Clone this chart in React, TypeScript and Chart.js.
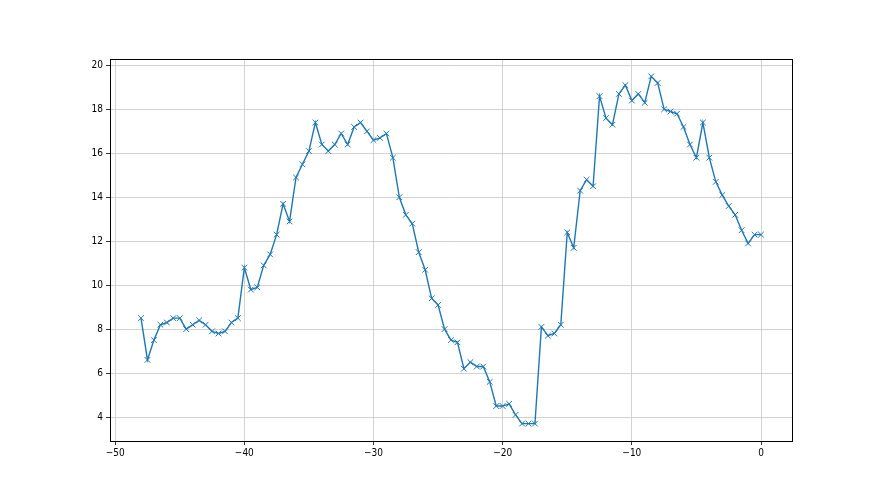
import React, { useEffect, useRef } from "react";
import { Chart, registerables } from "chart.js";

Chart.register(...registerables);

const xValues: number[] = [];
for (let i = 0; i <= 96; i++) xValues.push(-48 + i * 0.5);

const yValues: number[] = [
  8.5, 6.6, 7.5, 8.2, 8.3, 8.5, 8.5, 8.0, 8.2, 8.4,
  8.2, 7.9, 7.8, 7.9, 8.3, 8.5, 10.8, 9.8, 9.9, 10.9,
  11.4, 12.3, 13.7, 12.9, 14.9, 15.5, 16.1, 17.4, 16.4, 16.1,
  16.4, 16.9, 16.4, 17.2, 17.4, 17.0, 16.6, 16.7, 16.9, 15.8,
  14.0, 13.2, 12.8, 11.5, 10.7, 9.4, 9.1, 8.0, 7.5, 7.4,
  6.2, 6.5, 6.3, 6.3, 5.6, 4.5, 4.5, 4.6, 4.1, 3.7,
  3.7, 3.7, 8.1, 7.7, 7.8, 8.2, 12.4, 11.7, 14.3, 14.8,
  14.5, 18.6, 17.6, 17.3, 18.7, 19.1, 18.4, 18.7, 18.3, 19.5,
  19.2, 18.0, 17.9, 17.8, 17.2, 16.4, 15.8, 17.4, 15.8, 14.7,
  14.1, 13.6, 13.2, 12.5, 11.9, 12.3, 12.3,
];

const xTicks = [-50, -40, -30, -20, -10, 0];
const yTicks = [4, 6, 8, 10, 12, 14, 16, 18, 20];

const fmt = (v: number) => (v < 0 ? "\u2212" + Math.abs(v) : String(v));

const tickFont = { family: "'Liberation Sans Narrow', 'DejaVu Sans Condensed', 'DejaVu Sans'", size: 10 };

const framePlugin = {
  id: "frame",
  afterDraw(chart: any) {
    const { ctx, chartArea } = chart;
    ctx.save();
    ctx.strokeStyle = "#000000";
    ctx.lineWidth = 1;
    ctx.strokeRect(
      Math.round(chartArea.left) + 0.5,
      Math.round(chartArea.top) + 0.5,
      Math.round(chartArea.right - chartArea.left),
      Math.round(chartArea.bottom - chartArea.top)
    );
    ctx.restore();
  },
};

export default function App() {
  const ref = useRef<HTMLCanvasElement | null>(null);
  useEffect(() => {
    if (!ref.current) return;
    const data = xValues.map((x, i) => ({ x, y: yValues[i] }));
    const chart = new Chart(ref.current, {
      type: "line",
      data: {
        datasets: [
          {
            data,
            borderColor: "#1f77b4",
            backgroundColor: "#1f77b4",
            borderWidth: 1.4,
            pointStyle: "crossRot",
            pointRadius: 4,
            pointBorderWidth: 1,
            pointBorderColor: "#1f77b4",
            tension: 0,
            fill: false,
          },
        ],
      },
      options: {
        animation: false,
        responsive: false,
        devicePixelRatio: 1,
        layout: { padding: { left: 0, top: 59, right: 88, bottom: 0 } },
        plugins: { legend: { display: false }, tooltip: { enabled: false } },
        scales: {
          x: {
            type: "linear",
            min: -50.4,
            max: 2.4,
            afterBuildTicks: (s: any) => {
              s.ticks = xTicks.map((v) => ({ value: v }));
            },
            afterFit: (s: any) => {
              s.height = 54;
            },
            grid: {
              color: "#c8c8c8",
              lineWidth: 0.8,
              drawTicks: true,
              tickLength: 4,
              tickColor: "#000000",
            },
            border: { color: "#000000", width: 1 },
            ticks: {
              color: "#000000",
              font: tickFont,
              padding: 2,
              maxRotation: 0,
              callback: (v: any) => fmt(Number(v)),
            },
          },
          y: {
            type: "linear",
            min: 2.91,
            max: 20.29,
            afterBuildTicks: (s: any) => {
              s.ticks = yTicks.map((v) => ({ value: v }));
            },
            afterFit: (s: any) => {
              s.width = 110;
            },
            grid: {
              color: "#c8c8c8",
              lineWidth: 0.8,
              drawTicks: true,
              tickLength: 4,
              tickColor: "#000000",
            },
            border: { color: "#000000", width: 1 },
            ticks: {
              color: "#000000",
              font: tickFont,
              padding: 3,
              callback: (v: any) => fmt(Number(v)),
            },
          },
        },
      },
      plugins: [framePlugin],
    });
    return () => chart.destroy();
  }, []);
  return (
    <div style={{ position: "absolute", left: 0, top: 0, width: 880, height: 495, background: "#fff" }}>
      <canvas ref={ref} width={880} height={495} style={{ display: "block" }} />
    </div>
  );
}
